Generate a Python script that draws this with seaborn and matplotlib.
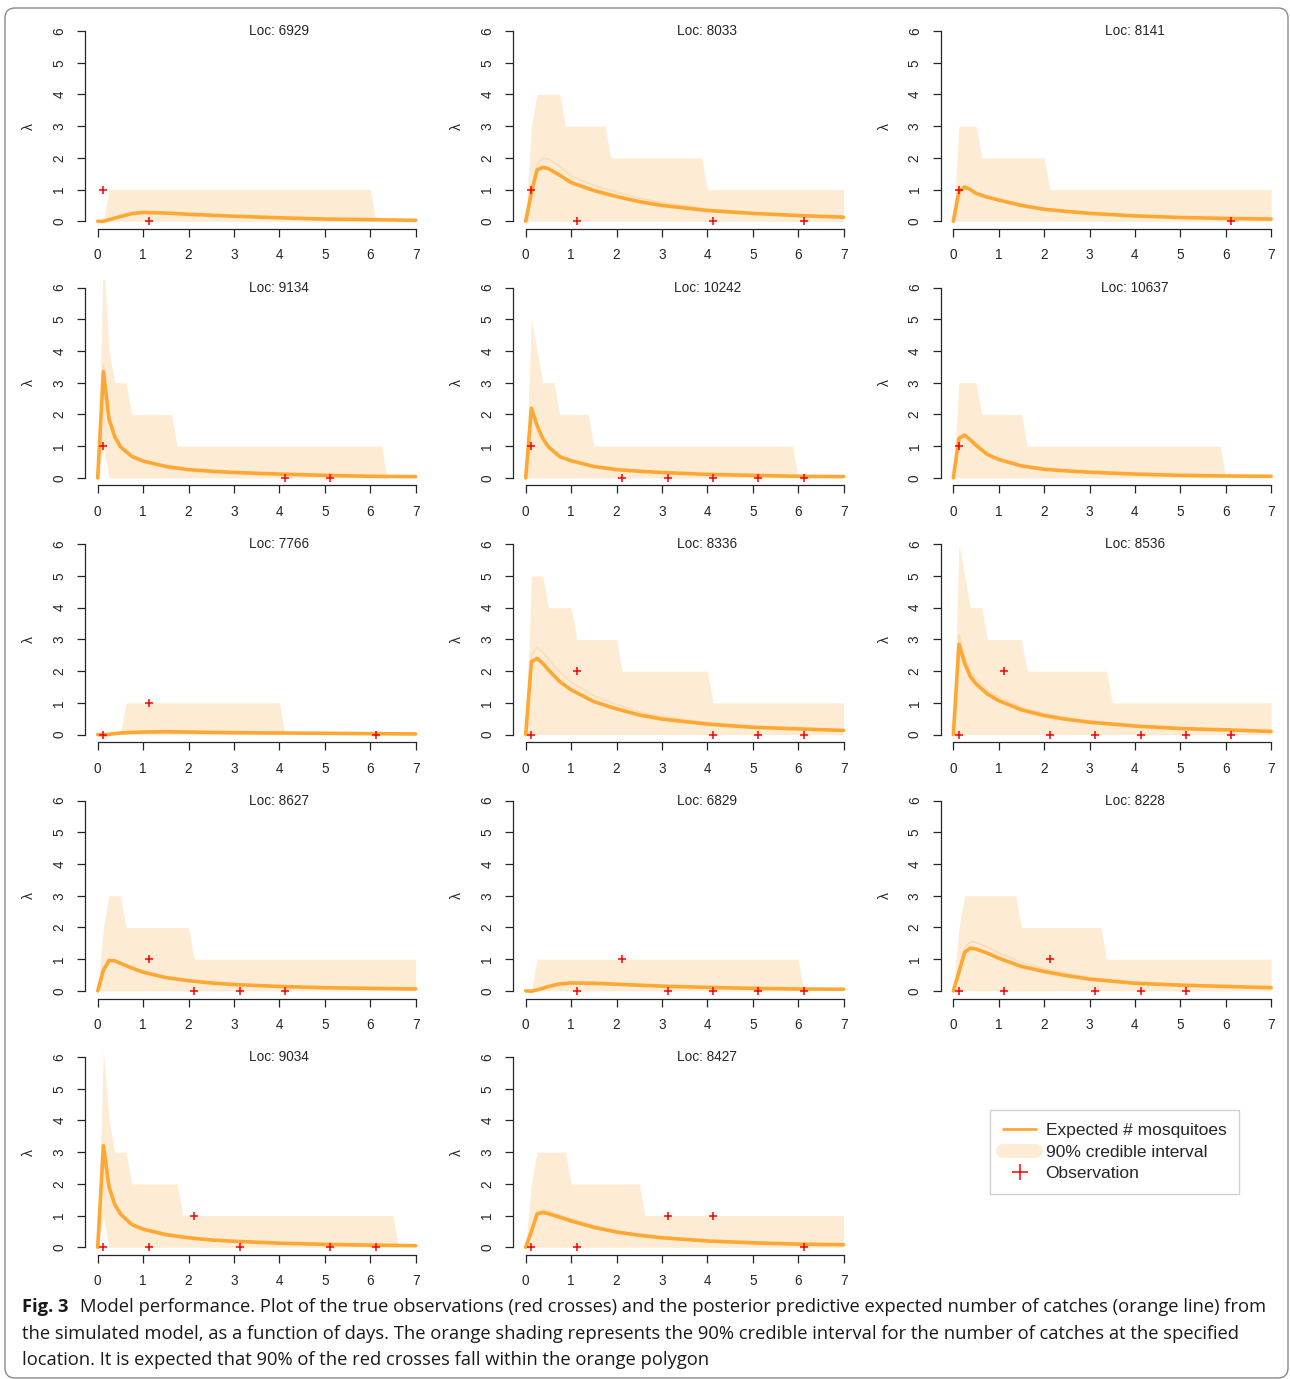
import seaborn as sns
import numpy as np
import matplotlib.pyplot as plt
from matplotlib.lines import Line2D
from matplotlib.patches import FancyBboxPatch
from matplotlib.transforms import IdentityTransform

# Data
locs = [6929, 8033, 8141, 9134, 10242, 10637, 7766, 8336, 8536, 8627, 6829, 8228, 9034, 8427]

# expected number of mosquitoes (orange line), all panels share this time grid
curve_t = [0, 0.125, 0.25, 0.375, 0.5, 0.75, 1, 1.5, 2, 2.5, 3, 4, 5, 6, 7]
curve_vals = [
    [0, 0.0, 0.05, 0.1, 0.15, 0.24, 0.28, 0.26, 0.22, 0.19, 0.16, 0.11, 0.07, 0.05, 0.03],
    [0, 0.9, 1.62, 1.70, 1.66, 1.45, 1.22, 0.97, 0.78, 0.62, 0.5, 0.34, 0.25, 0.18, 0.13],
    [0, 0.95, 1.08, 1.0, 0.88, 0.76, 0.67, 0.5, 0.38, 0.31, 0.25, 0.17, 0.12, 0.09, 0.07],
    [0, 3.35, 1.85, 1.3, 0.98, 0.68, 0.53, 0.36, 0.26, 0.21, 0.17, 0.12, 0.08, 0.05, 0.04],
    [0, 2.2, 1.65, 1.24, 0.98, 0.67, 0.54, 0.36, 0.26, 0.21, 0.17, 0.11, 0.08, 0.05, 0.04],
    [0, 1.25, 1.35, 1.2, 1.03, 0.74, 0.58, 0.38, 0.27, 0.22, 0.18, 0.12, 0.08, 0.06, 0.05],
    [0, -0.01, 0.01, 0.03, 0.05, 0.07, 0.08, 0.09, 0.08, 0.07, 0.06, 0.05, 0.04, 0.03, 0.02],
    [0, 2.3, 2.4, 2.25, 2.04, 1.67, 1.41, 1.04, 0.81, 0.62, 0.49, 0.33, 0.23, 0.18, 0.13],
    [0, 2.85, 2.25, 1.83, 1.6, 1.28, 1.07, 0.78, 0.6, 0.48, 0.39, 0.27, 0.19, 0.15, 0.1],
    [0, 0.65, 0.96, 0.95, 0.87, 0.72, 0.59, 0.42, 0.32, 0.25, 0.2, 0.14, 0.1, 0.08, 0.06],
    [0, -0.01, 0.03, 0.08, 0.14, 0.22, 0.25, 0.24, 0.21, 0.18, 0.15, 0.11, 0.08, 0.06, 0.05],
    [0, 0.6, 1.22, 1.35, 1.32, 1.19, 1.03, 0.77, 0.61, 0.48, 0.37, 0.24, 0.18, 0.14, 0.1],
    [0, 3.2, 1.9, 1.35, 1.05, 0.72, 0.57, 0.4, 0.3, 0.23, 0.19, 0.13, 0.09, 0.07, 0.05],
    [0, 0.5, 1.05, 1.1, 1.06, 0.95, 0.83, 0.63, 0.48, 0.38, 0.3, 0.2, 0.14, 0.1, 0.08],
]
# faint pale line seen inside the band (None where it sits on the orange line)
faint_vals = [
    None,
    [0, 1.0, 1.8, 1.98, 1.97, 1.72, 1.42, 1.13, 0.92, 0.73, 0.59, 0.39, 0.27, 0.2, 0.14],
    None,
    [0, 3.6, 1.95, 1.35, 1.02, 0.7, 0.55, 0.37, 0.27, 0.22, 0.18, 0.12, 0.08, 0.05, 0.04],
    None,
    None,
    None,
    [0, 2.5, 2.75, 2.6, 2.38, 1.97, 1.65, 1.22, 0.95, 0.72, 0.57, 0.38, 0.27, 0.2, 0.15],
    [0, 3.15, 2.45, 2.0, 1.75, 1.4, 1.18, 0.86, 0.66, 0.53, 0.43, 0.3, 0.21, 0.16, 0.11],
    None,
    None,
    [0, 0.65, 1.35, 1.55, 1.53, 1.38, 1.2, 0.9, 0.7, 0.55, 0.43, 0.28, 0.2, 0.15, 0.11],
    None,
    [0, 0.55, 1.12, 1.18, 1.14, 1.02, 0.9, 0.68, 0.52, 0.41, 0.32, 0.21, 0.15, 0.11, 0.08],
]

# 90% credible interval (step-like polygon)
band_t = [
    [0.125, 0.25, 6.0, 6.125],
    [0, 0.125, 0.25, 0.75, 0.875, 1.75, 1.875, 3.875, 4.0, 7],
    [0, 0.125, 0.5, 0.625, 2.0, 2.125, 7],
    [0, 0.125, 0.25, 0.375, 0.625, 0.75, 1.625, 1.75, 6.25, 6.375],
    [0, 0.125, 0.375, 0.625, 0.75, 1.375, 1.5, 5.875, 6.0],
    [0, 0.125, 0.5, 0.625, 1.5, 1.625, 5.875, 6.0],
    [0.5, 0.625, 4.0, 4.125],
    [0, 0.125, 0.375, 0.5, 1.0, 1.125, 2.0, 2.125, 4.0, 4.125, 7],
    [0, 0.125, 0.375, 0.625, 0.75, 1.5, 1.625, 3.375, 3.5, 7],
    [0, 0.125, 0.25, 0.5, 0.625, 2.0, 2.125, 7],
    [0.125, 0.25, 6.0, 6.125],
    [0, 0.125, 0.25, 1.375, 1.5, 3.25, 3.375, 7],
    [0, 0.125, 0.25, 0.375, 0.625, 0.75, 1.75, 1.875, 6.5, 6.625],
    [0, 0.125, 0.25, 0.875, 1.0, 2.5, 2.625, 7],
]
band_hi = [
    [0, 1, 1, 0],
    [0, 3, 4, 4, 3, 3, 2, 2, 1, 1],
    [0, 3, 3, 2, 2, 1, 1],
    [0, 7, 4, 3, 3, 2, 2, 1, 1, 0],
    [0, 5, 3, 3, 2, 2, 1, 1, 0],
    [0, 3, 3, 2, 2, 1, 1, 0],
    [0, 1, 1, 0],
    [0, 5, 5, 4, 4, 3, 3, 2, 2, 1, 1],
    [0, 6, 4, 4, 3, 3, 2, 2, 1, 1],
    [0, 2, 3, 3, 2, 2, 1, 1],
    [0, 1, 1, 0],
    [0, 2, 3, 3, 2, 2, 1, 1],
    [0, 6.2, 4, 3, 3, 2, 2, 1, 1, 0],
    [0, 2, 3, 3, 2, 2, 1, 1],
]
band_lo = [
    [0, 0, 0, 0],
    [0] * 10,
    [0] * 7,
    [0, 1, 0, 0, 0, 0, 0, 0, 0, 0],
    [0] * 9,
    [0] * 8,
    [0, 0, 0, 0],
    [0] * 11,
    [0] * 10,
    [0] * 8,
    [0, 0, 0, 0],
    [0] * 8,
    [0, 1, 0, 0, 0, 0, 0, 0, 0, 0],
    [0] * 8,
]

# observations (red crosses)
obs_t = [
    [0.125, 1.125],
    [0.125, 1.125, 4.125, 6.125],
    [0.125, 6.125],
    [0.125, 4.125, 5.125],
    [0.125, 2.125, 3.125, 4.125, 5.125, 6.125],
    [0.125],
    [0.125, 1.125, 6.125],
    [0.125, 1.125, 4.125, 5.125, 6.125],
    [0.125, 1.125, 2.125, 3.125, 4.125, 5.125, 6.125],
    [1.125, 2.125, 3.125, 4.125],
    [1.125, 2.125, 3.125, 4.125, 5.125, 6.125],
    [0.125, 1.125, 2.125, 3.125, 4.125, 5.125],
    [0.125, 1.125, 2.125, 3.125, 5.125, 6.125],
    [0.125, 1.125, 3.125, 4.125, 6.125],
]
obs_y = [
    [1, 0],
    [1, 0, 0, 0],
    [1, 0],
    [1, 0, 0],
    [1, 0, 0, 0, 0, 0],
    [1],
    [0, 1, 0],
    [0, 2, 0, 0, 0],
    [0, 2, 0, 0, 0, 0, 0],
    [1, 0, 0, 0],
    [0, 1, 0, 0, 0, 0],
    [0, 0, 1, 0, 0, 0],
    [0, 0, 1, 0, 0, 0],
    [0, 0, 1, 1, 0],
]

ORANGE = '#FFA733'
BAND = '#FEEBD3'
FAINT = '#FDDCB0'
AXC = '#262626'

sns.set_style('ticks')
plt.rcParams['font.family'] = ['Liberation Sans', 'DejaVu Sans']

W, H = 1290, 1379
fig = plt.figure(figsize=(W / 100, H / 100), dpi=100)

col_left = [85, 513, 940.6]
row_top = [23.4, 280, 536.7, 793, 1049.4]
aw, ah = 343.3, 205.5

for i, loc in enumerate(locs):
    r, c = divmod(i, 3)
    ax = fig.add_axes([col_left[c] / W, 1 - (row_top[r] + ah) / H, aw / W, ah / H])
    ax.fill_between(band_t[i], band_lo[i], band_hi[i], color=BAND, lw=0)
    if faint_vals[i] is not None:
        sns.lineplot(x=curve_t, y=faint_vals[i], ax=ax, color=FAINT, lw=1.0)
    sns.lineplot(x=curve_t, y=curve_vals[i], ax=ax, color=ORANGE, lw=2.6)
    sns.scatterplot(x=obs_t[i], y=obs_y[i], ax=ax, marker='+', color='red',
                    s=40, linewidth=1.1, zorder=5)
    ax.set_xlim(-0.28, 7.28)
    ax.set_ylim(-0.24, 6.24)
    ax.set_xticks(range(8))
    ax.set_yticks(range(7))
    sns.despine(ax=ax)
    ax.spines['bottom'].set_bounds(0, 7)
    ax.spines['left'].set_bounds(0, 6)
    for s in ['bottom', 'left']:
        ax.spines[s].set_color(AXC)
        ax.spines[s].set_linewidth(0.9)
    ax.tick_params(direction='out', length=5.5, width=0.9, color=AXC,
                   labelsize=9.8, labelcolor=AXC, pad=8.5)
    ax.tick_params(axis='y', labelrotation=90, pad=8)
    for lab in ax.get_yticklabels():
        lab.set_verticalalignment('center')
    ax.set_xlabel('')
    ax.set_ylabel('λ', fontsize=10, color=AXC, rotation=90)
    ax.yaxis.set_label_coords(-0.143, 0.5)
    ax.text(4, 6, f'Loc: {loc}', ha='center', va='center', fontsize=9.8, color=AXC)
    ax.patch.set_alpha(0)

handles = [Line2D([], [], color=ORANGE, lw=2),
           Line2D([], [], color=BAND, lw=10),
           Line2D([], [], color='red', marker='+', ls='', markersize=11, mew=1.1)]
labels = ['Expected # mosquitoes', '90% credible interval', 'Observation']
fig.legend(handles, labels, loc='upper left',
           bbox_to_anchor=(990 / W, 1 - 1110 / H), fontsize=12.5,
           frameon=True, fancybox=False, edgecolor='#c8c8c8',
           handlelength=1.9, handletextpad=0.55, labelspacing=0.36,
           borderpad=0.75, borderaxespad=0)

# caption
cap_font = ['Open Sans', 'DejaVu Sans']
cap_size = 13.2
renderer = fig.canvas.get_renderer()
b = fig.text(22 / W, 1 - 1307 / H, 'Fig. 3', fontsize=cap_size, fontweight='bold',
             family=cap_font, va='center', ha='left', color='#1a1a1a')
bx = b.get_window_extent(renderer=renderer)
fig.text((bx.x1 + 11) / W, 1 - 1307 / H,
         'Model performance. Plot of the true observations (red crosses) and the posterior '
         'predictive expected number of catches (orange line) from',
         fontsize=cap_size, family=cap_font, va='center', ha='left', color='#1a1a1a')
fig.text(22 / W, 1 - 1334 / H,
         'the simulated model, as a function of days. The orange shading represents the 90% '
         'credible interval for the number of catches at the specified',
         fontsize=cap_size, family=cap_font, va='center', ha='left', color='#1a1a1a')
fig.text(22 / W, 1 - 1360 / H,
         'location. It is expected that 90% of the red crosses fall within the orange polygon',
         fontsize=cap_size, family=cap_font, va='center', ha='left', color='#1a1a1a')

frame = FancyBboxPatch((5, 1), 1283, 1370, boxstyle='round,pad=0,rounding_size=10',
                       transform=IdentityTransform(), fill=False,
                       edgecolor='#8a8a8a', lw=1.0)
fig.add_artist(frame)

fig.savefig('out.png', dpi=100)
